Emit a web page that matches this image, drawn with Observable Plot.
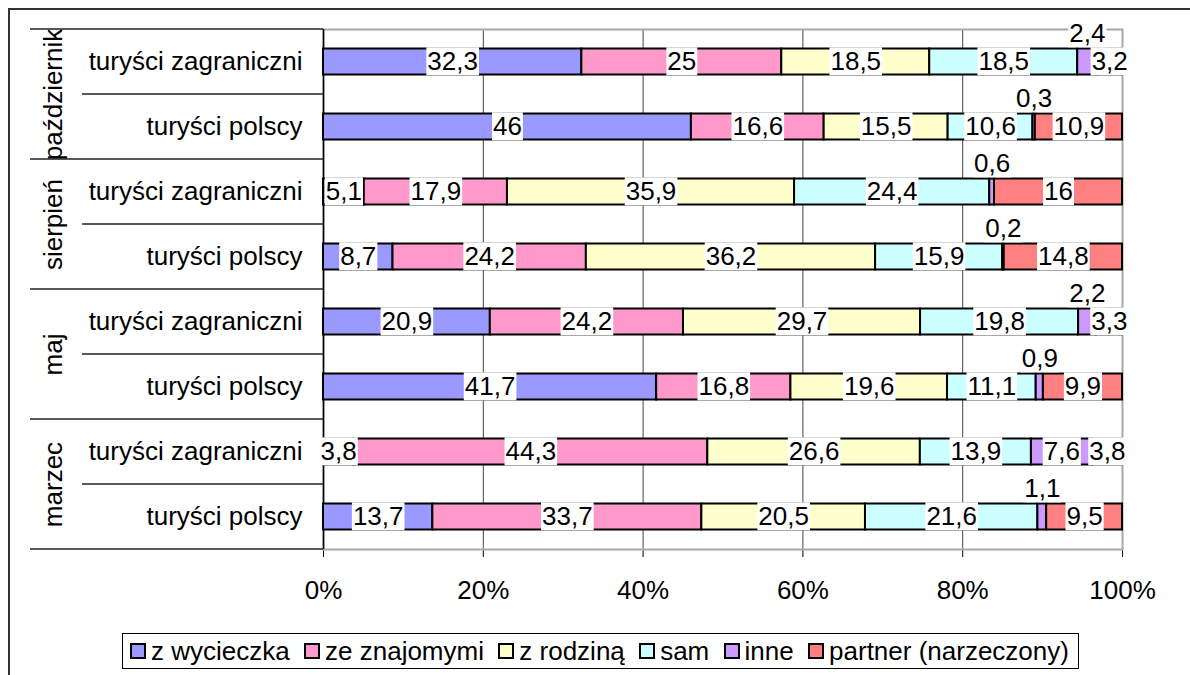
<!DOCTYPE html>
<html>
<head>
<meta charset="utf-8">
<script src="https://cdn.jsdelivr.net/npm/d3@7"></script>
<script src="https://cdn.jsdelivr.net/npm/@observablehq/plot@0.6"></script>
<style>
  html, body { margin: 0; padding: 0; background: #fff; }
  #wrap { position: relative; width: 1190px; height: 675px; overflow: hidden; background: #fff; font-family: "Liberation Sans", Arial, sans-serif; }
  #border { position: absolute; left: 8px; top: 8px; width: 1300px; height: 800px; border-top: 2px solid #333; border-left: 2px solid #333; }
  #chart { position: absolute; left: 0; top: 0; }
  #legend { position: absolute; left: 122px; top: 633px; width: 957px; height: 36px; box-sizing: border-box; border: 1px solid #000;
            display: flex; align-items: center; justify-content: space-between; padding: 0 9px 0 7px; font-size: 26px; color: #000; white-space: nowrap; }
  .item { display: flex; align-items: center; }
  .sw { display: inline-block; width: 12px; height: 12px; border: 2px solid #000; margin-right: 5px; }
</style>
</head>
<body>
<div id="wrap">
  <div id="border"></div>
  <div id="chart"></div>
  <div id="legend"></div>
</div>
<script>
// ---- data ----
const months = ["październik", "sierpień", "maj", "marzec"];           // top to bottom
const groups = ["turyści zagraniczni", "turyści polscy"];             // within each month, top to bottom
const series = ["z wycieczka", "ze znajomymi", "z rodziną", "sam", "inne", "partner (narzeczony)"];
const colors = ["#9999FF", "#FF99CC", "#FFFFCC", "#CCFFFF", "#CC99FF", "#FF8080"];
// row order: paźdz zagr, paźdz pol, sierp zagr, sierp pol, maj zagr, maj pol, marzec zagr, marzec pol
const zWycieczka  = [32.3, 46,   5.1,  8.7,  20.9, 41.7, 3.8,  13.7];
const zeZnajomymi = [25,   16.6, 17.9, 24.2, 24.2, 16.8, 44.3, 33.7];
const zRodzina    = [18.5, 15.5, 35.9, 36.2, 29.7, 19.6, 26.6, 20.5];
const sam         = [18.5, 10.6, 24.4, 15.9, 19.8, 11.1, 13.9, 21.6];
const inne        = [2.4,  0.3,  0.6,  0.2,  2.2,  0.9,  7.6,  1.1];
const partner     = [3.2,  10.9, 16,   14.8, 3.3,  9.9,  3.8,  9.5];
const xTicks = [0, 0.2, 0.4, 0.6, 0.8, 1];

// ---- table ----
const seriesValues = [zWycieczka, zeZnajomymi, zRodzina, sam, inne, partner];
const rowKeys = [];
months.forEach(m => groups.forEach(g => rowKeys.push(m + "|" + g)));
const table = [];
rowKeys.forEach((row, i) => {
  series.forEach((s, j) => {
    table.push({row, month: row.split("|")[0], group: row.split("|")[1], series: s, value: seriesValues[j][i]});
  });
});
const fmt = v => String(v).replace(".", ",");
const isSmall = d => d.series === "inne" && d.value < 3;

const FONT = 26;
const plot = Plot.plot({
  width: 1190,
  height: 620,
  marginTop: 29,
  marginBottom: 71,
  marginLeft: 323,
  marginRight: 68,
  style: {fontSize: FONT + "px", fontFamily: "'Liberation Sans', Arial, sans-serif", color: "#000", background: "transparent", overflow: "visible"},
  x: {domain: [0, 1], ticks: xTicks, tickFormat: d3.format(".0%"), tickSize: 8, tickPadding: 23, label: null},
  y: {domain: rowKeys, paddingInner: 0.6, paddingOuter: 0.3, round: false, tickSize: 0, tickPadding: 21,
      tickFormat: k => k.split("|")[1], label: null},
  color: {domain: series, range: colors},
  marks: [
    Plot.ruleX(xTicks.slice(1, -1), {stroke: "#444", strokeWidth: 1}),
    Plot.frame({stroke: "#a8a8a8", strokeWidth: 2}),
    Plot.ruleX([0], {stroke: "#000", strokeWidth: 1.5}),
    Plot.barX(table, Plot.stackX({offset: "normalize", x: "value", y: "row", z: "series", order: null,
      fill: "series", stroke: "#000", strokeWidth: 2})),
    Plot.text(table, Plot.stackX({offset: "normalize", x: "value", y: "row", z: "series", order: null,
      text: d => isSmall(d) ? "" : fmt(d.value), fill: "#000", ariaDescription: "value-labels"})),
    Plot.text(table, Plot.stackX({offset: "normalize", x: "value", y: "row", z: "series", order: null,
      text: d => isSmall(d) ? fmt(d.value) : "", fill: "#000", dy: -28, ariaDescription: "value-labels"})),
    Plot.text(months, {y: m => m + "|turyści polscy", text: d => d, frameAnchor: "left", textAnchor: "middle",
      dx: -270, dy: -32.5, rotate: -90, fill: "#000"})
  ]
});

document.getElementById("chart").append(plot);

// white boxes behind data labels
plot.querySelectorAll('g[aria-description="value-labels"] text').forEach(t => {
  if (!t.textContent) return;
  const b = t.getBBox();
  const r = document.createElementNS("http://www.w3.org/2000/svg", "rect");
  r.setAttribute("x", b.x - 1);
  r.setAttribute("y", b.y + 1);
  r.setAttribute("width", b.width + 2);
  r.setAttribute("height", b.height - 2);
  r.setAttribute("fill", "#fff");
  if (t.getAttribute("transform")) r.setAttribute("transform", t.getAttribute("transform"));
  t.parentNode.insertBefore(r, t);
});

// category divider lines in the left margin
const ys = plot.scale("y");
const yr = ys.range;
const step = (yr[1] - yr[0]) / rowKeys.length;
const svg = d3.select(plot);
const gl = svg.append("g").attr("stroke", "#222").attr("stroke-width", 1.3);
for (let i = 0; i <= rowKeys.length; i++) {
  const y = yr[0] + i * step;
  gl.append("line").attr("x1", i % 2 === 0 ? 30 : 82).attr("x2", 323).attr("y1", y).attr("y2", y);
}

// legend
const legend = d3.select("#legend");
series.forEach((s, i) => {
  const it = legend.append("div").attr("class", "item");
  it.append("span").attr("class", "sw").style("background", colors[i]);
  it.append("span").text(s);
});
</script>
</body>
</html>
